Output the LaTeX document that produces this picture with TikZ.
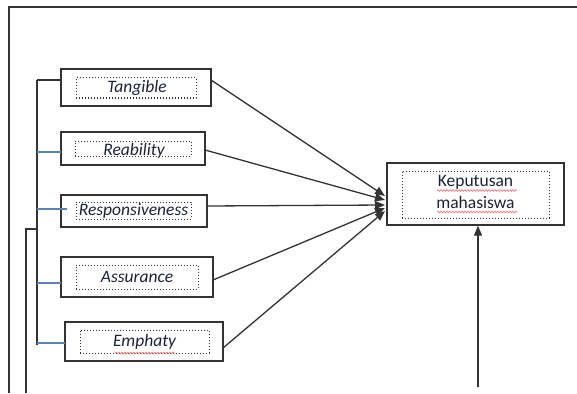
\documentclass[tikz,border=0pt]{standalone}
\usepackage{fontspec}
\setmainfont{Carlito}
\usetikzlibrary{arrows.meta,decorations.pathmorphing}
\definecolor{frame}{HTML}{333333}
\definecolor{ink}{HTML}{1E2238}
\definecolor{link}{HTML}{5A82B4}
\definecolor{wavy}{HTML}{F08080}
\begin{document}
\begin{tikzpicture}[x=1pt,y=-1pt,
  outerbox/.style={draw=frame,line width=1.4pt,fill=white,inner sep=0pt},
  innerbox/.style={draw=frame,dotted,line width=1pt,inner sep=0pt},
  lbl/.style={font=\fontsize{17.5}{19}\selectfont\itshape,text=ink,inner sep=0pt},
  klbl/.style={font=\fontsize{17.5}{21.5}\selectfont,text=ink,inner sep=0pt,align=center},
  arr/.style={draw=frame,line width=1.3pt,-{Triangle[length=10pt,width=8pt]}},
  brk/.style={draw=frame,line width=1.3pt},
  blu/.style={draw=link,line width=1.1pt},
  spell/.style={draw=wavy,line width=0.7pt,decorate,decoration={snake,amplitude=0.9pt,segment length=3pt}}]
\useasboundingbox[fill=white] (0,0) rectangle (577,393);
% outer frame
\coordinate (fb) at (9,393);
\coordinate (fc) at (9,7);
\coordinate (fr) at (577,7);
\draw[frame,line width=1.4pt] (fb) -- (fc) -- (fr);
% boxes
\node[outerbox,minimum width=150pt,minimum height=37pt] (t) at (136,87.5) {};
\node[outerbox,minimum width=144pt,minimum height=33pt] (r) at (133,148.5) {};
\node[outerbox,minimum width=146pt,minimum height=32pt] (s) at (134,211) {};
\node[outerbox,minimum width=152pt,minimum height=40pt] (a) at (137,277) {};
\node[outerbox,minimum width=158pt,minimum height=39pt] (e) at (144,341.5) {};
\node[outerbox,minimum width=177pt,minimum height=62pt] (k) at (475.5,194) {};
% inner dotted boxes
\node[innerbox,minimum width=120pt,minimum height=20pt] (ti) at (136,88) {};
\node[innerbox,minimum width=116pt,minimum height=15pt] (ri) at (133,148.5) {};
\node[innerbox,minimum width=115pt,minimum height=17pt] (si) at (133.5,210.5) {};
\node[innerbox,minimum width=122pt,minimum height=24pt] (ai) at (137,277) {};
\node[innerbox,minimum width=129pt,minimum height=23pt] (ei) at (144.5,341.5) {};
\node[innerbox,minimum width=147pt,minimum height=47pt] (ki) at (475.5,194.5) {};
% labels
\node[lbl] (tl) at (137,88) {Tangible};
\node[lbl] (rl) at (134,151) {Reability};
\node[lbl] (sl) at (133.5,211) {Responsiveness};
\node[lbl] (al) at (137,277) {Assurance};
\node[lbl] (el) at (144.5,342) {Emphaty};
\node[klbl] (kl) at (475.5,192) {Keputusan\\mahasiswa};
% spelling marks
\coordinate (w1a) at (115,353); \coordinate (w1b) at (175,353);
\coordinate (w2a) at (437,190.5); \coordinate (w2b) at (517,190.5);
\coordinate (w3a) at (437,212); \coordinate (w3b) at (517,212);
\draw[spell] (w1a) -- (w1b);
\draw[spell] (w2a) -- (w2b);
\draw[spell] (w3a) -- (w3b);
% left bracket
\coordinate (b1) at (37,80);
\coordinate (b2) at (37,152);
\coordinate (b3) at (37,209);
\coordinate (b4) at (37,283);
\coordinate (b5) at (37,345);
\coordinate (b6) at (37,343);
\coordinate (c1) at (26,229);
\coordinate (c2) at (26,393);
\coordinate (c0) at (37,229);
\coordinate (t0) at (61,80);
\coordinate (r0) at (61,152);
\coordinate (s0) at (67,209);
\coordinate (a0) at (61,283);
\coordinate (e0) at (65,343);
\draw[brk] (b1) -- (b5);
\draw[brk] (t0) -- (b1);
\draw[blu] (b2) -- (r0);
\draw[blu] (b3) -- (s0);
\draw[blu] (b4) -- (a0);
\draw[blu] (b6) -- (e0);
\draw[brk] (c0) -- (c1) -- (c2);
% arrows to Keputusan
\coordinate (ts) at (211,80);
\coordinate (rs) at (205,150);
\coordinate (ss) at (207,206);
\coordinate (as) at (213,280);
\coordinate (es) at (223,348);
\coordinate (k1) at (385,196);
\coordinate (k2) at (385,200);
\coordinate (k3) at (385,205);
\coordinate (k4) at (385,208);
\coordinate (k5) at (385,211);
\draw[arr] (ts) -- (k1);
\draw[arr] (rs) -- (k2);
\draw[arr] (ss) -- (k3);
\draw[arr] (as) -- (k4);
\draw[arr] (es) -- (k5);
% upward arrow
\coordinate (u0) at (478,387);
\draw[arr] (u0) -- (k.south -| u0);
\end{tikzpicture}
\end{document}
